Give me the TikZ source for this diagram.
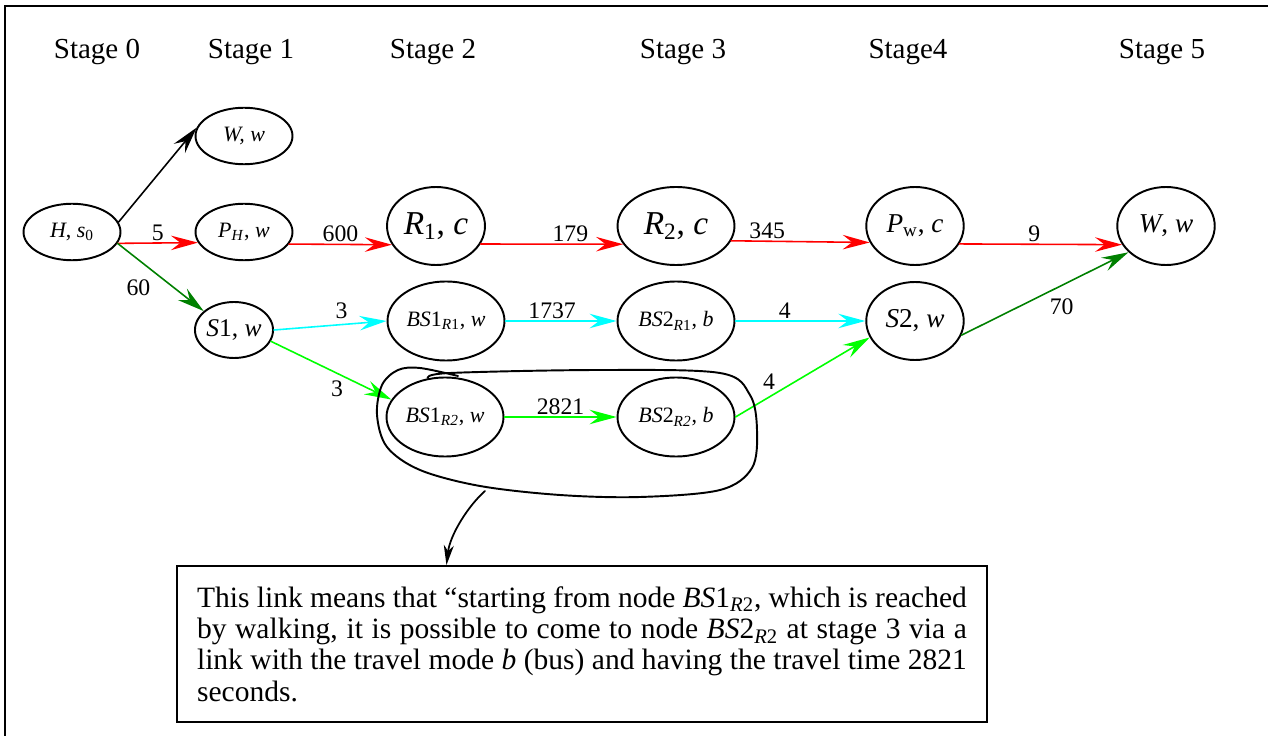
\documentclass[tikz,border=0pt]{standalone}
\usepackage{fontspec}
\setmainfont{Liberation Serif}
\usepackage{tikz}
\usetikzlibrary{arrows.meta,shapes.geometric,calc}
\definecolor{darkgreen}{RGB}{0,128,0}
\definecolor{lcyan}{RGB}{0,255,255}
\definecolor{lgreen}{RGB}{0,255,0}
\definecolor{lred}{RGB}{255,0,0}
\begin{document}
\begin{tikzpicture}[x=0.02cm,y=-0.02cm,line cap=round,
  >={Stealth[length=5.4mm,width=2.9mm,inset=1.9mm]},
  stg/.style={font=\fontsize{16.5}{20}\selectfont},
  nd/.style={ellipse,draw,line width=1.1pt,inner sep=0pt},
  sm/.style={nd,minimum width=1.94cm,minimum height=1.13cm,font=\fontsize{12.5}{15}\selectfont},
  md/.style={nd,minimum width=1.95cm,minimum height=1.56cm,font=\fontsize{15.5}{18}\selectfont},
  bg/.style={nd,minimum width=1.96cm,minimum height=1.56cm,font=\fontsize{19}{22}\selectfont},
  wd/.style={nd,minimum width=2.34cm,minimum height=1.58cm,font=\fontsize{12.5}{15}\selectfont},
  lk/.style={->,line width=0.9pt},
  wt/.style={font=\fontsize{13.5}{15}\selectfont,inner sep=1pt,text=black}]
\useasboundingbox (0,0) rectangle (1268,736);
\draw[line width=1.1pt,line cap=butt] (1268,6) -- (5,6) -- (5,736);

\node[stg] (s0) at (97,52) {Stage 0};
\node[stg] (s1) at (251,52) {Stage 1};
\node[stg] (s2) at (433,52) {Stage 2};
\node[stg] (s3) at (683,52) {Stage 3};
\node[stg] (s4) at (908,52) {Stage4};
\node[stg] (s5) at (1162,52) {Stage 5};

\node[sm] (H) at (72,232) {\textit{H}, \textit{s}\textsubscript{0}};
\node[sm] (W1) at (244,136) {\textit{W, w}};
\node[sm] (PH) at (244,232) {\textit{P}\textsubscript{\textit{H}}, \textit{w}};
\node[md,minimum width=1.52cm,minimum height=1.12cm,font=\fontsize{14.5}{17}\selectfont] (S1) at (234,330) {\textit{S}1, \textit{w}};
\node[bg] (R1) at (436,226) {\textit{R}\textsubscript{1}, \textit{c}};
\node[bg,minimum width=2.34cm] (R2) at (676,226) {\textit{R}\textsubscript{2}, \textit{c}};
\node[wd] (BA) at (446,321) {\textit{BS}1\textsubscript{\textit{R}1}, \textit{w}};
\node[wd] (BB) at (676,321) {\textit{BS}2\textsubscript{\textit{R}1}, \textit{b}};
\node[wd] (BC) at (445,417) {\textit{BS}1\textsubscript{\textit{R2}}, \textit{w}};
\node[wd] (BD) at (676,417) {\textit{BS}2\textsubscript{\textit{R2}}, \textit{b}};
\node[md] (Pw) at (915,226) {\textit{P}\textsubscript{w}, \textit{c}};
\node[md] (S2) at (915,321) {\textit{S}2, \textit{w}};
\node[md] (W5) at (1166,226) {\textit{W}, \textit{w}};

\draw[lk] (H.12) -- (W1.170);
\draw[lk,lred] (H.-14) -- (PH.-167) node[wt,midway,above]{5};
\draw[lk,darkgreen] (H.-14) -- (S1.148) node[wt,pos=0.45,below left=2pt]{60};
\draw[lk,lred] (PH.-15) -- (R1.-157) node[wt,midway,above]{600};
\draw[lk,lred] (R1.-22) -- (R2.-161) node[wt,pos=0.63,above]{179};
\draw[lk,lred] (R2.-15) -- (Pw.-160) node[wt,pos=0.26,above]{345};
\draw[lk,lred] (Pw.-22) -- (W5.-157) node[wt,pos=0.46,above]{9};
\draw[lk,lcyan] (S1.east) -- (BA.west) node[wt,pos=0.6,above=2pt]{3};
\draw[lk,lgreen] (S1.-17) -- (BC.162) node[wt,pos=0.55,below=3pt]{3};
\draw[lk,lcyan] (BA.east) -- (BB.west) node[wt,pos=0.42,above]{1737};
\draw[lk,lcyan] (BB.east) -- (S2.west) node[wt,pos=0.38,above]{4};
\draw[lk,lgreen] (BC.east) -- (BD.west) node[wt,midway,above]{2821};
\draw[lk,lgreen] (BD.east) -- (S2.-160) node[wt,pos=0.25,above=3pt]{4};
\draw[lk,darkgreen] (S2.-17) -- (W5.-145) node[wt,pos=0.6,below=6pt]{70};

\draw[line width=1.1pt] plot[smooth,tension=0.55] coordinates {(428,378) (450,373) (600,370) (720,373) (750,395) (757,430) (752,468) (720,490) (640,497) (560,495) (480,486) (420,470) (387,447) (377,415) (382,385) (398,370) (420,368) (458,376)};
\coordinate (lb) at (485,491);

\node[draw,line width=1pt,minimum width=16.2cm,minimum height=3.12cm,text width=15.4cm,align=justify,inner sep=0pt,font=\fontsize{16.8}{17.8}\selectfont] (note) at (582,644) {This link means that “starting from node \textit{BS}1\textsubscript{\textit{R}2}, which is reached\linebreak by walking, it is possible to come to node \textit{BS}2\textsubscript{\textit{R}2} at stage 3 via a\linebreak link with the travel mode \textit{b} (bus) and having the travel time 2821\linebreak seconds.};

\draw[->,>={Stealth[length=4mm,width=2mm,inset=1.2mm]},line width=1pt] (lb) .. controls (468,506) and (450,535) .. ($(note.north west)!0.333!(note.north east)$);
\end{tikzpicture}
\end{document}
